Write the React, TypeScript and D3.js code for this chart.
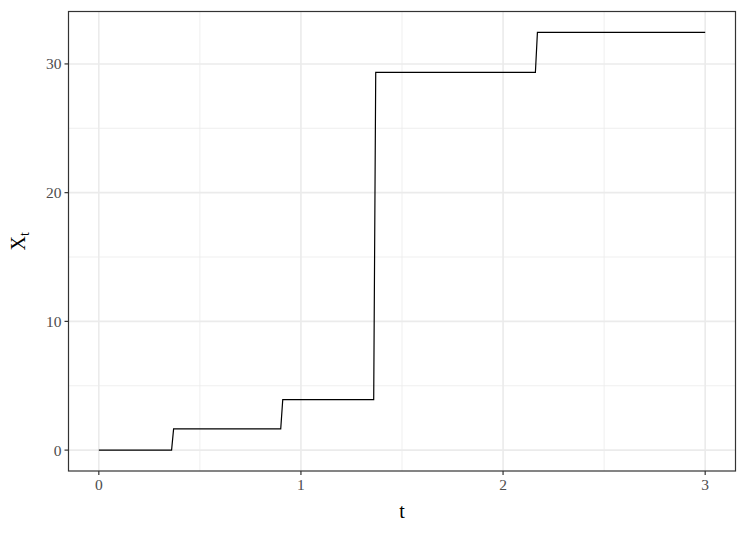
import React from "react";
import * as d3 from "d3";

const tValues = [0, 0.36, 0.37, 0.9, 0.91, 1.36, 1.37, 2.16, 2.17, 3.0];
const xValues = [0, 0, 1.65, 1.65, 3.92, 3.92, 29.35, 29.35, 32.45, 32.45];
const xTicks = [0, 1, 2, 3];
const xMinor = [0.5, 1.5, 2.5];
const yTicks = [0, 10, 20, 30];
const yMinor = [5, 15, 25];

const W = 747;
const H = 534;
const M = { left: 68.5, right: 11.5, top: 11.5, bottom: 63 };

export default function App() {
  const pts = tValues.map((t, i) => [t, xValues[i]] as [number, number]);
  const tExt = d3.extent(tValues) as [number, number];
  const yExt = d3.extent(xValues) as [number, number];
  const tPad = (tExt[1] - tExt[0]) * 0.05;
  const yPad = (yExt[1] - yExt[0]) * 0.05;
  const x = d3
    .scaleLinear()
    .domain([tExt[0] - tPad, tExt[1] + tPad])
    .range([M.left, W - M.right]);
  const y = d3
    .scaleLinear()
    .domain([yExt[0] - yPad, yExt[1] + yPad])
    .range([H - M.bottom, M.top]);
  const line = d3
    .line<[number, number]>()
    .x((d) => x(d[0]))
    .y((d) => y(d[1]));
  const font = "'Liberation Serif', 'Times New Roman', serif";
  const pl = M.left;
  const pr = W - M.right;
  const pt = M.top;
  const pb = H - M.bottom;
  return (
    <svg width={W} height={H} style={{ position: "absolute", left: 0, top: 0, background: "#fff" }}>
      <rect x={0} y={0} width={W} height={H} fill="#fff" />
      {yMinor.map((v) => (
        <line key={"ym" + v} x1={pl} x2={pr} y1={y(v)} y2={y(v)} stroke="#ebebeb" strokeWidth={0.8} />
      ))}
      {xMinor.map((v) => (
        <line key={"xm" + v} y1={pt} y2={pb} x1={x(v)} x2={x(v)} stroke="#ebebeb" strokeWidth={0.8} />
      ))}
      {yTicks.map((v) => (
        <line key={"yg" + v} x1={pl} x2={pr} y1={y(v)} y2={y(v)} stroke="#ebebeb" strokeWidth={1.6} />
      ))}
      {xTicks.map((v) => (
        <line key={"xg" + v} y1={pt} y2={pb} x1={x(v)} x2={x(v)} stroke="#ebebeb" strokeWidth={1.6} />
      ))}
      <path d={line(pts) || ""} fill="none" stroke="#000" strokeWidth={1.2} />
      <rect x={pl} y={pt} width={pr - pl} height={pb - pt} fill="none" stroke="#333" strokeWidth={1.2} />
      {yTicks.map((v) => (
        <g key={"yt" + v}>
          <line x1={pl - 4} x2={pl} y1={y(v)} y2={y(v)} stroke="#333" strokeWidth={1.2} />
          <text x={pl - 7} y={y(v)} dy="0.35em" textAnchor="end" fontFamily={font} fontSize={15.5} fill="#4d4d4d">
            {v}
          </text>
        </g>
      ))}
      {xTicks.map((v) => (
        <g key={"xt" + v}>
          <line x1={x(v)} x2={x(v)} y1={pb} y2={pb + 4} stroke="#333" strokeWidth={1.2} />
          <text x={x(v)} y={pb + 7} dy="0.75em" textAnchor="middle" fontFamily={font} fontSize={15.5} fill="#4d4d4d">
            {v}
          </text>
        </g>
      ))}
      <text x={(pl + pr) / 2} y={H - 16} textAnchor="middle" fontFamily={font} fontSize={20} fill="#000">
        t
      </text>
      <text
        transform={`translate(${25},${(pt + pb) / 2}) rotate(-90)`}
        textAnchor="middle"
        fontFamily={font}
        fontSize={20}
        fill="#000"
      >
        X
        <tspan fontSize={14} dy="4">t</tspan>
      </text>
    </svg>
  );
}
